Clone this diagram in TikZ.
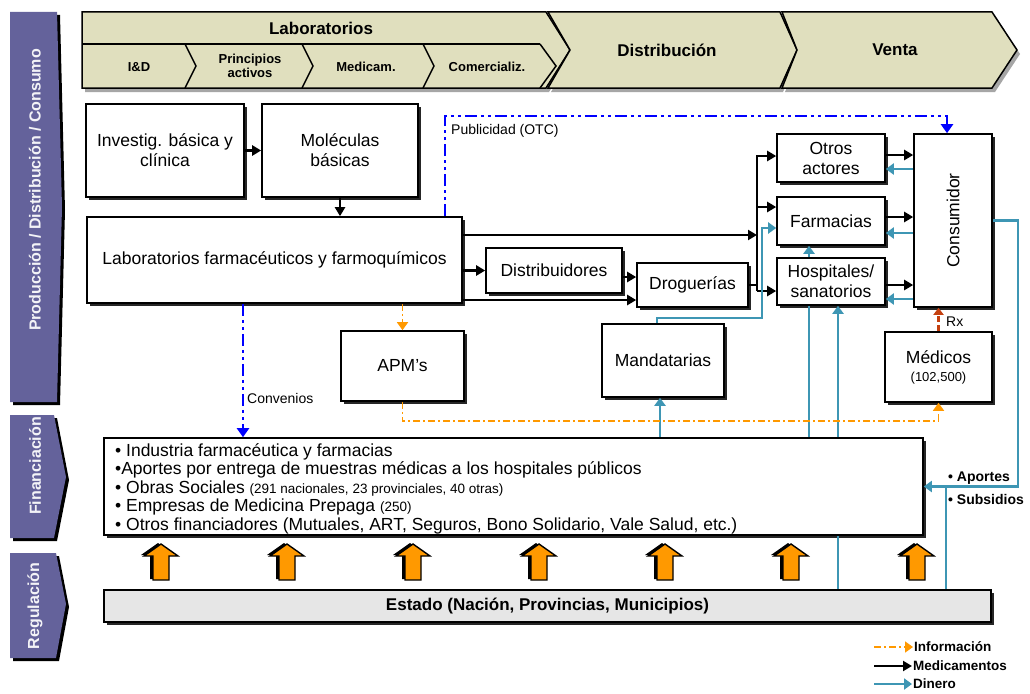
\documentclass[tikz,border=0pt]{standalone}
\usepackage{fontspec}
\setmainfont{Liberation Sans}
\usetikzlibrary{arrows.meta,shadows}
\definecolor{bannerfill}{RGB}{224,223,190}
\definecolor{purp}{RGB}{100,98,155}
\definecolor{money}{RGB}{62,150,180}
\definecolor{info}{RGB}{255,153,0}
\definecolor{pubblue}{RGB}{0,0,255}
\definecolor{rxred}{RGB}{196,64,16}
\definecolor{estadofill}{RGB}{230,230,230}
\begin{document}
\begin{tikzpicture}[x=1pt,y=-1pt,
  box/.style={draw=black,line width=1.6pt,fill=white,align=center,inner sep=2pt,
    font=\fontsize{17.5}{20}\selectfont,
    drop shadow={shadow xshift=2.5pt,shadow yshift=-2.5pt,fill=black!85,opacity=1}},
  medline/.style={draw=black,line width=2.2pt},
  medarrow/.style={medline,-{Triangle[length=9pt,width=10pt]}},
  cashline/.style={draw=money,line width=2.4pt},
  casharrow/.style={cashline,-{Triangle[length=8pt,width=11pt]}},
  pubarrow/.style={draw=pubblue,line width=2.8pt,dash pattern=on 12pt off 4pt on 3pt off 4pt on 3pt off 4pt,-{Triangle[length=9pt,width=12pt]}},
  infoarrow/.style={draw=info,line width=1.6pt,dash pattern=on 7pt off 3pt on 2pt off 3pt,-{Triangle[length=8pt,width=11pt]}},
  rxarrow/.style={draw=rxred,line width=2.6pt,dash pattern=on 6pt off 3pt,-{Triangle[length=7pt,width=10pt]}},
  sidelabel/.style={rotate=90,text=white!92!purp,font=\fontsize{16}{18}\selectfont\bfseries},
  bannertext/.style={font=\fontsize{17}{19}\selectfont\bfseries},
  subtext/.style={font=\fontsize{13}{14}\selectfont\bfseries,align=center},
  smalllabel/.style={font=\fontsize{14}{16}\selectfont,inner sep=1pt},
  fintext/.style={font=\fontsize{17.5}{18.5}\selectfont,anchor=base west,inner sep=0pt},
  legtext/.style={font=\fontsize{13.5}{15}\selectfont\bfseries,anchor=west,inner sep=1pt},
  uparr/.pic={
    \fill[black,shift={(-3,-1)}] (0,0) -- (17,12) -- (8,12) -- (8,36) -- (-8,36) -- (-8,12) -- (-17,12) -- cycle;
    \filldraw[fill=info,draw=black,line width=1.4pt] (0,0) -- (17,12) -- (8,12) -- (8,36) -- (-8,36) -- (-8,12) -- (-17,12) -- cycle;
  }
]
\useasboundingbox (0,0) rectangle (1030,693);
\fill[white] (0,0) rectangle (1030,693);

% ---------- side labels ----------
\fill[black,shift={(3,3)}] (10,12) -- (57,12) -- (62,207) -- (57,402) -- (10,402) -- cycle;
\fill[purp] (10,12) -- (57,12) -- (62,207) -- (57,402) -- (10,402) -- cycle;
\node[sidelabel] (sideprod) at (35,190) {Producción / Distribución / Consumo};
\fill[black,shift={(3,3)}] (10,415) -- (54,415) -- (66,477) -- (54,538) -- (10,538) -- cycle;
\fill[purp] (10,415) -- (54,415) -- (66,477) -- (54,538) -- (10,538) -- cycle;
\node[sidelabel] (sidefin) at (35,466) {Financiación};
\fill[black,shift={(3,3)}] (10,553) -- (56,553) -- (66,604) -- (56,658) -- (10,658) -- cycle;
\fill[purp] (10,553) -- (56,553) -- (66,604) -- (56,658) -- (10,658) -- cycle;
\node[sidelabel] (sidereg) at (35,606) {Regulación};

% ---------- top banner ----------
\begin{scope}[shift={(3,4)}]
  \fill[black!35] (82,12) -- (546,12) -- (570,50) -- (546,88) -- (82,88) -- cycle;
  \fill[black!35] (548,12) -- (780,12) -- (797,50) -- (780,88) -- (548,88) -- (570,50) -- cycle;
  \fill[black!35] (782,12) -- (992,12) -- (1017,50) -- (992,88) -- (782,88) -- (797,50) -- cycle;
\end{scope}
\filldraw[fill=bannerfill,draw=black,line width=1.5pt] (82,12) -- (546,12) -- (570,50) -- (546,88) -- (82,88) -- cycle;
\filldraw[fill=bannerfill,draw=black,line width=1.5pt] (548,12) -- (780,12) -- (797,50) -- (780,88) -- (548,88) -- (570,50) -- cycle;
\filldraw[fill=bannerfill,draw=black,line width=1.5pt] (782,12) -- (992,12) -- (1017,50) -- (992,88) -- (782,88) -- (797,50) -- cycle;
\draw[line width=1.5pt] (82,44) -- (540,44);
\draw[line width=1.5pt] (185,44) -- (196,66) -- (185,88);
\draw[line width=1.5pt] (302,44) -- (313,66) -- (302,88);
\draw[line width=1.5pt] (423,44) -- (434,66) -- (423,88);
\draw[line width=1.5pt] (540,44) -- (556,66) -- (540,88);
\node[bannertext] (hlab) at (321,28) {Laboratorios};
\node[subtext] (hid) at (139,67) {I\&D};
\node[subtext] (hpa) at (250,66) {Principios\\activos};
\node[subtext] (hmed) at (366,67) {Medicam.};
\node[subtext] (hcom) at (487,67) {Comercializ.};
\node[bannertext] (hdist) at (667,50) {Distribución};
\node[bannertext] (hventa) at (895,50) {Venta};

% ---------- boxes ----------
\node[box,minimum width=158pt,minimum height=93pt] (inv) at (165,150.5) {Investig. básica y\\clínica};
\node[box,minimum width=156pt,minimum height=93pt] (mol) at (340,150.5) {Moléculas\\básicas};
\node[box,minimum width=375pt,minimum height=86pt] (lab) at (274.5,260) {Laboratorios farmacéuticos y farmoquímicos};
\node[box,minimum width=136pt,minimum height=45pt] (dist) at (554,270.5) {Distribuidores};
\node[box,minimum width=111pt,minimum height=44pt] (drog) at (692.5,285) {Droguerías};
\node[box,minimum width=108pt,minimum height=48pt] (otros) at (831,158) {Otros\\actores};
\node[box,minimum width=108pt,minimum height=48pt] (farm) at (831,221) {Farmacias};
\node[box,minimum width=108pt,minimum height=47pt] (hosp) at (831,281.5) {Hospitales/\\sanatorios};
\node[box,minimum width=78pt,minimum height=173pt] (cons) at (953,220.5) {\rotatebox{90}{Consumidor}};
\node[box,minimum width=123pt,minimum height=70pt] (apm) at (402.5,366) {APM’s};
\node[box,minimum width=122pt,minimum height=73pt] (mand) at (663,360.5) {Mandatarias};
\node[box,minimum width=107pt,minimum height=70pt] (med) at (938.5,367) {Médicos\\[-2pt]{\fontsize{13}{15}\selectfont(102,500)}};
\node[box,minimum width=819pt,minimum height=97pt] (fin) at (513.5,486.5) {};
\node[box,fill=estadofill,minimum width=887pt,minimum height=32pt,font=\fontsize{17}{19}\selectfont\bfseries] (estado) at (547.5,606) {Estado (Nación, Provincias, Municipios)};

% financing text
\node[fintext] (fl1) at (115,456) {• Industria farmacéutica y farmacias};
\node[fintext] (fl2) at (115,474.5) {•Aportes por entrega de muestras médicas a los hospitales públicos};
\node[fintext] (fl3) at (115,493) {• Obras Sociales {\fontsize{13.5}{15}\selectfont(291 nacionales, 23 provinciales, 40 otras)}};
\node[fintext] (fl4) at (115,511.5) {• Empresas de Medicina Prepaga {\fontsize{13.5}{15}\selectfont(250)}};
\node[fintext] (fl5) at (115,530) {• Otros financiadores (Mutuales, ART, Seguros, Bono Solidario, Vale Salud, etc.)};

% ---------- helper coordinates ----------
\coordinate (busx) at (757,0);
\coordinate (y155) at (0,155);
\coordinate (y156) at (0,156);
\coordinate (y169) at (0,169);
\coordinate (y207) at (0,207);
\coordinate (y217) at (0,217);
\coordinate (y228) at (0,228);
\coordinate (y233) at (0,233);
\coordinate (y235) at (0,235);
\coordinate (y277) at (0,277);
\coordinate (y285) at (0,285);
\coordinate (y291) at (0,291);
\coordinate (y299) at (0,299);
\coordinate (y300) at (0,300);
\coordinate (pubtop) at (445,116);
\coordinate (pubright) at (947,116);
\coordinate (convx) at (243,0);
\coordinate (infoy) at (0,421);
\coordinate (mandx) at (657,0);
\coordinate (mandtop) at (657,318);
\coordinate (farmx) at (762,318);
\coordinate (finmand) at (660,0);
\coordinate (x809) at (809,0);
\coordinate (x838) at (838,0);
\coordinate (consx) at (1018,0);
\coordinate (jx) at (946,0);

% ---------- medicamentos (black) ----------
\draw[medarrow] (inv.east) -- (mol.west);
\draw[medarrow] (mol.south) -- (lab.north -| mol.south);
\draw[medarrow] (dist.west -| lab.east) -- (dist.west);
\draw[medarrow] (lab.east |- y235) -- (busx |- y235);
\draw[medarrow] (lab.east |- y300) -- (drog.west |- y300);
\draw[medarrow] (dist.east |- y277) -- (drog.west |- y277);
\draw[medline] (drog.east) -- (drog.east -| busx);
\draw[medline] (busx |- y155) -- (busx |- y291);
\draw[medarrow] (busx |- y156) -- (otros.west |- y156);
\draw[medarrow] (busx |- y207) -- (farm.west |- y207);
\draw[medarrow] (busx |- y291) -- (hosp.west |- y291);
\draw[medarrow] (otros.east |- y155) -- (cons.west |- y155);
\draw[medarrow] (farm.east |- y217) -- (cons.west |- y217);
\draw[medarrow] (hosp.east |- y285) -- (cons.west |- y285);

% ---------- dinero (teal) ----------
\draw[casharrow] (cons.west |- y169) -- (otros.east |- y169);
\draw[casharrow] (cons.west |- y233) -- (farm.east |- y233);
\draw[casharrow] (cons.west |- y299) -- (hosp.east |- y299);
\draw[casharrow] (mand.north -| mandx) -- (mandtop) -- (farmx) -- (farmx |- y228) -- (farm.west |- y228);
\draw[casharrow] (fin.north -| finmand) -- (mand.south -| finmand);
\draw[cashline] (fin.north -| x809) -- (hosp.south -| x809);
\draw[casharrow] (hosp.north -| x809) -- (farm.south -| x809);
\draw[cashline] (estado.north -| x838) -- (fin.south -| x838);
\draw[casharrow] (fin.north -| x838) -- (hosp.south -| x838);
\draw[casharrow] (cons.east) -- (cons.east -| consx) -- (consx |- fin.east) -- (fin.east);
\draw[cashline] (estado.north -| jx) -- (jx |- fin.east);
\node[font=\fontsize{14}{16}\selectfont\bfseries,anchor=west,inner sep=0pt] (aportes) at (948,478) {• Aportes};
\node[font=\fontsize{14}{16}\selectfont\bfseries,anchor=west,inner sep=0pt] (subsidios) at (948,499) {• Subsidios};

% ---------- publicidad / convenios (blue) ----------
\draw[pubarrow] (lab.north -| pubtop) -- (pubtop) -- (pubright) -- (cons.north -| pubright);
\node[smalllabel,anchor=west] (publbl) at (450,131) {Publicidad (OTC)};
\draw[pubarrow] (lab.south -| convx) -- (fin.north -| convx);
\node[smalllabel,anchor=west] (convlbl) at (246,398) {Convenios};

% ---------- informacion (orange) ----------
\draw[infoarrow] (lab.south -| apm.north) -- (apm.north);
\draw[infoarrow] (apm.south) -- (apm.south |- infoy) -| (med.south);

% ---------- Rx ----------
\draw[rxarrow] (med.north) -- (cons.south -| med.north);
\node[smalllabel,anchor=west] (rxlbl) at (945,322) {Rx};

% ---------- regulation arrows ----------
\foreach \ax in {161,287,413,539,665,791,917} {
  \pic at (\ax,544) {uparr};
}

% ---------- legend ----------
\node[legtext] (legI) at (913,647) {Información};
\node[legtext] (legM) at (912,666) {Medicamentos};
\node[legtext] (legD) at (912,684) {Dinero};
\coordinate (legIs) at (874,647);
\coordinate (legMs) at (874,666);
\coordinate (legDs) at (874,684);
\draw[infoarrow] (legIs) -- (legI.west);
\draw[medarrow] (legMs) -- (legM.west);
\draw[casharrow] (legDs) -- (legD.west);
\end{tikzpicture}
\end{document}
